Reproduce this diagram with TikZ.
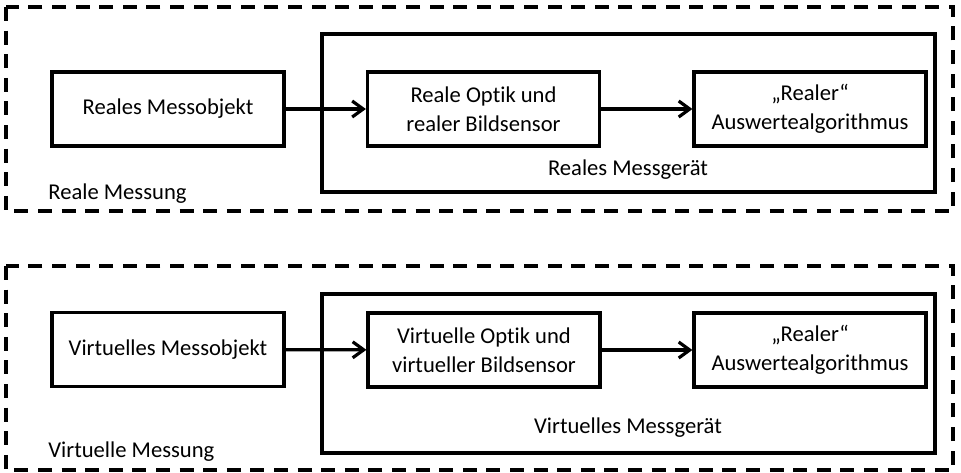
\documentclass[tikz,border=0pt]{standalone}
\usepackage{fontspec}
\setmainfont{Carlito}[Ligatures=NoCommon]
\usetikzlibrary{arrows.meta}

\begin{document}
\begin{tikzpicture}[x=0.5pt, y=-0.5pt,
    box/.style={draw, line width=1.6pt, minimum width=116pt, minimum height=37pt, align=center, inner sep=0pt},
    frame/.style={draw, line width=1.6pt, dash pattern=on 7pt off 4.8pt},
    conn/.style={-{Straight Barb[length=5.5pt, width=8pt, line width=1.6pt]}, line width=1.6pt},
    every node/.style={font=\fontsize{11.3}{14.3}\selectfont}]
    \useasboundingbox (0,0) rectangle (961,472);

    % Reale Messung
    \draw[frame] (6,7) rectangle (953,211);
    \draw[line width=1.6pt] (322,34) rectangle (935,192);
    \node[box] (objR) at (168,109) {Reales Messobjekt};
    \node[box] (optR) at (483.5,109) {Reale Optik und\\realer Bildsensor};
    \node[box] (algR) at (810,109) {„Realer“\\Auswertealgorithmus};
    \draw[conn] (objR) -- (optR);
    \draw[conn] (optR) -- (algR);
    \node[anchor=west, inner sep=0pt] (labR) at (48,193.5) {Reale Messung};
    \node[inner sep=0pt] (devR) at (628,170) {Reales Messgerät};

    % Virtuelle Messung
    \draw[frame] (6,266) rectangle (953,470);
    \draw[line width=1.6pt] (322,294) rectangle (935,453);
    \node[box] (objV) at (168,349.5) {Virtuelles Messobjekt};
    \node[box] (optV) at (484,350) {Virtuelle Optik und\\virtueller Bildsensor};
    \node[box] (algV) at (810,350) {„Realer“\\Auswertealgorithmus};
    \draw[conn] (objV) -- (optV);
    \draw[conn] (optV) -- (algV);
    \node[anchor=west, inner sep=0pt] (labV) at (48,452) {Virtuelle Messung};
    \node[inner sep=0pt] (devV) at (628,428) {Virtuelles Messgerät};

\end{tikzpicture}
\end{document}
